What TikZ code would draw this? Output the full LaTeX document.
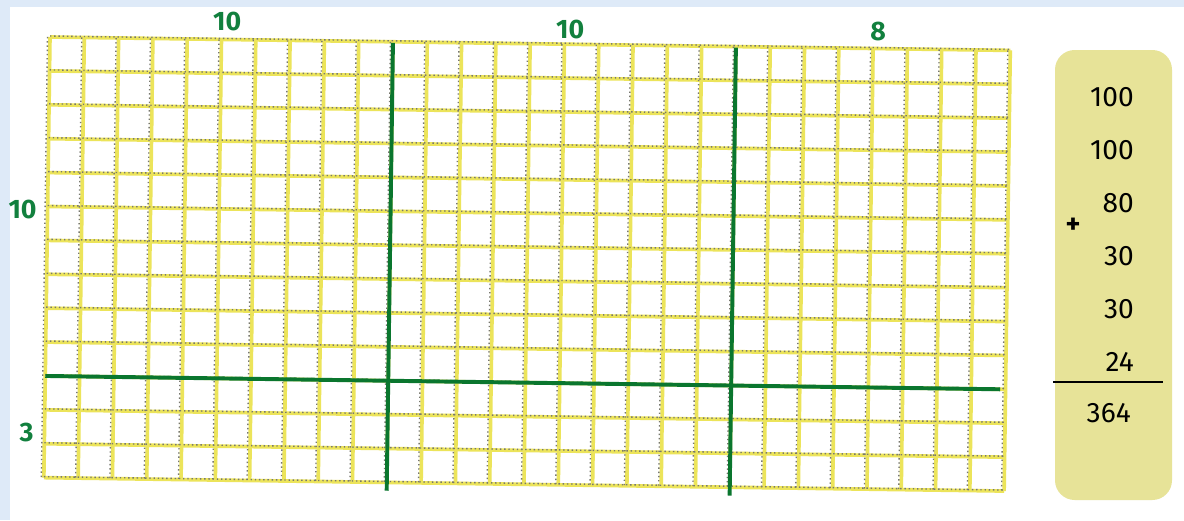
\documentclass[tikz,border=0pt]{standalone}
\usepackage{fontspec}
\setmainfont{Fira Sans}
\definecolor{gridyellow}{RGB}{236,228,90}
\definecolor{dotgrey}{RGB}{120,120,110}
\definecolor{markgreen}{RGB}{18,128,62}
\definecolor{linegreen}{RGB}{10,118,46}
\definecolor{sumbox}{RGB}{231,227,152}
\definecolor{slideblue}{RGB}{222,234,248}
\begin{document}
\begin{tikzpicture}[x=0.025cm, y=-0.025cm,
    yellowline/.style={gridyellow, line width=2.6pt},
    dotline/.style={dotgrey, line width=1pt, dotted},
    greenline/.style={linegreen, line width=2.8pt},
    count/.style={markgreen, inner sep=0pt, font=\fontsize{19}{19}\selectfont\bfseries},
    addend/.style={anchor=east, inner sep=0pt, font=\fontsize{20}{20}\selectfont}]
    \useasboundingbox (0,0) rectangle (1184,520);
    \fill[white] (0,0) rectangle (1184,520);
    \fill[slideblue] (0,0) rectangle (1184,7);
    \fill[slideblue] (0,0) rectangle (10,520);

    % Squared grid, 28 x 13
    \begin{scope}[rotate around={-0.8:(50,37)}]
        \fill[white] (50,37) rectangle (1010.4,477.7);
        \foreach \i in {0,...,28}
            \draw[yellowline] ({50+34.3*\i},37) -- ({50+34.3*\i},477.7);
        \foreach \j in {0,...,13}
            \draw[yellowline] (50,{37+33.9*\j}) -- (1010.4,{37+33.9*\j});
        \foreach \i in {0,...,28}
            \draw[dotline] ({47.5+34.3*\i},37) -- ({47.5+34.3*\i},477.7);
        \foreach \j in {0,...,13}
            \draw[dotline] (50,{36+33.9*\j}) -- (1010.4,{36+33.9*\j});

        % Splitting lines
        \draw[greenline] (393,38) -- (393,486);
        \draw[greenline] (736,38) -- (736,486);
        \draw[greenline] (50,376) -- (1005,376);

        % Side lengths
        \node[count] (top1) at (227,19) {10};
        \node[count] (top2) at (570,22) {10};
        \node[count] (top3) at (878,20) {8};
        \node[count] (left1) at (25,210) {10};
        \node[count] (left2) at (32,433) {3};
    \end{scope}

    % Sum of the parts
    \fill[sumbox, rounded corners=14] (1055,50) rectangle (1172,500);
    \node[addend] (p1) at (1134,97) {100};
    \node[addend] (p2) at (1134,150) {100};
    \node[addend] (p3) at (1134,203) {80};
    \node[addend] (p4) at (1134,256) {30};
    \node[addend] (p5) at (1134,309) {30};
    \node[addend] (p6) at (1134,362) {24};
    \node[font=\fontsize{20}{20}\selectfont\bfseries, inner sep=0pt] (plus) at (1073,226) {+};
    \draw[line width=2pt] (1053,382) -- (1163,382);
    \node[addend] (total) at (1131,413) {364};
\end{tikzpicture}
\end{document}
